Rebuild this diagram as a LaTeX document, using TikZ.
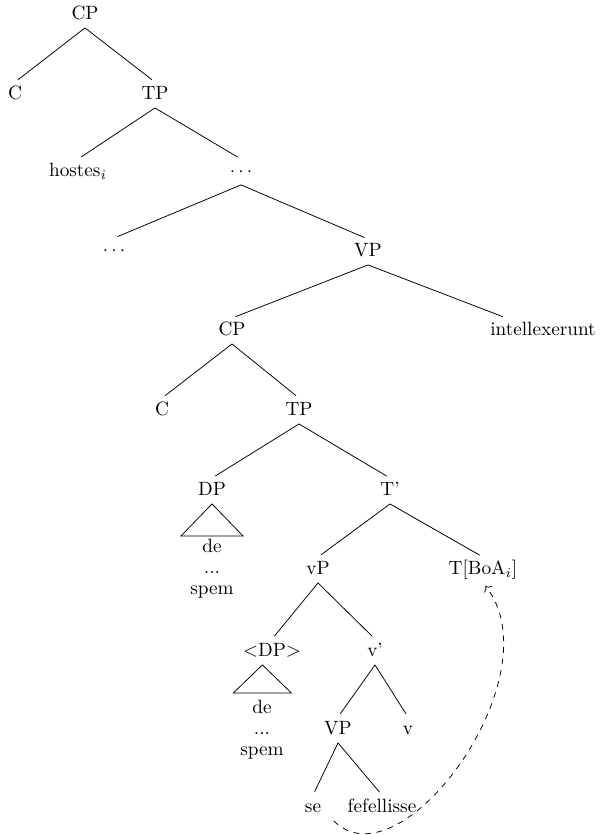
\documentclass[tikz,border=0pt]{standalone}
\usepackage{tikz}
\usetikzlibrary{arrows.meta,positioning}

\tikzset{
  lab/.style={inner sep=2pt, text height=1.6ex, text depth=0.5ex},
  branch/.style={shorten >=2pt},
  words/.style={align=center, inner sep=1pt},
  movement/.style={dashed, ->, shorten >=2pt},
}

\begin{document}
\begin{tikzpicture}[x=0.52pt, y=-0.52pt]
\useasboundingbox (0,0) rectangle (601,835);

% upper clause
\node[lab] (cpA) at (85,15) {CP};
\node[lab] (cA) at (15,95) {C};
\node[lab] (tpA) at (155,95) {TP};
\node[lab] (hostes) at (78,172) {hostes$_i$};
\node[lab] (dotsA) at (241,172) {$\cdots$};
\node[lab] (dotsB) at (114,251) {$\cdots$};
\node[lab] (vpA) at (368,252) {VP};
\node[lab] (intell) at (543,331) {intellexerunt};

% embedded clause
\node[lab] (cpB) at (232,331) {CP};
\node[lab] (cB) at (162,411) {C};
\node[lab] (tpB) at (299,411) {TP};
\node[lab] (dpA) at (212,491) {DP};
\node[lab] (tbar) at (390,491) {T'};
\node[lab] (vsmall) at (318,570) {vP};
\node[lab] (tboa) at (483,570) {T[BoA$_i$]};
\node[lab] (dpB) at (272,652) {$<$DP$>$};
\node[lab] (vbar) at (375,652) {v'};
\node[lab] (vpB) at (338,730) {VP};
\node[lab] (vhead) at (408,730) {v};
\node[lab] (se) at (313,808) {se};
\node[lab] (fef) at (382,808) {fefellisse};

% branches
\foreach \p/\c in {cpA/cA, cpA/tpA, tpA/hostes, tpA/dotsA, dotsA/dotsB,
    dotsA/vpA, vpA/cpB, cpB/cB, cpB/tpB, tpB/dpA, tpB/tbar,
    tbar/vsmall, tbar/tboa, vsmall/dpB, vsmall/vbar, vbar/vpB, vbar/vhead,
    vpB/se, vpB/fef}
  \draw[branch] (\p.south) -- (\c.north);
\draw[branch] (vpA.south) -- ([xshift=-19pt]intell.north);

% triangles
\draw (dpA.south) -- ++(-31,32) -- ++(62,0) -- cycle;
\node[words] (dpAtxt) at (212,569) {de\\[-1pt]...\\[-1pt]spem};
\draw ([xshift=-5pt]dpB.south) -- ++(-29,28) -- ++(58,0) -- cycle;
\node[words] (dpBtxt) at (262,730) {de\\[-1pt]...\\[-1pt]spem};

% movement
\draw[movement] ([xshift=-5pt]fef.south west) .. controls +(67,67) and +(73,92) .. (tboa.south);
\end{tikzpicture}
\end{document}
